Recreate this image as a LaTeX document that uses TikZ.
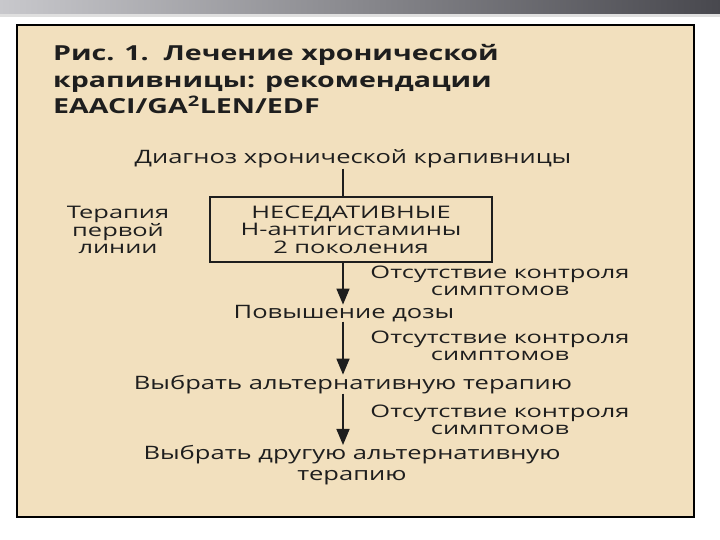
\documentclass[tikz,border=0pt]{standalone}
\usepackage{fontspec}
\setmainfont{Open Sans}[FakeStretch=1.38]
\newfontfamily\widefont{Open Sans}[FakeStretch=1.47]
\usetikzlibrary{arrows.meta}
\definecolor{paper}{RGB}{242,224,190}
\definecolor{ink}{RGB}{30,30,30}
\definecolor{barL}{RGB}{200,200,204}
\definecolor{barR}{RGB}{72,72,78}
\begin{document}
\begin{tikzpicture}[x=1pt,y=1pt]
			\tikzstyle{txt}=[inner sep=0pt,text=ink,font=\fontsize{18.5}{18.5}\selectfont]
			\tikzstyle{ttl}=[inner sep=0pt,anchor=base west,text=ink,font=\bfseries\fontsize{20.7}{21}\selectfont]
			\tikzstyle{side}=[txt,align=center,font=\widefont\fontsize{17.3}{17.5}\selectfont]
			\tikzstyle{flow}=[-{Triangle[length=16pt,width=13pt]},line width=1.6pt,draw=ink]
			\useasboundingbox (0,0) rectangle (720,-540);
			\fill[white] (0,0) rectangle (720,-540);
			\shade[left color=barL,right color=barR] (0,0) rectangle (720,-14);
			\fill[gray!25] (0,-14) rectangle (720,-17);
			\draw[line width=2.5pt,fill=paper] (17,-25) rectangle (694,-517);
			\coordinate (axis) at (343,0);
			\begin{scope}
			\node[ttl] (t1) at (53,-61)  {Рис. 1.\ \ Лечение хронической};
			\node[ttl] (t2) at (53,-88)  {крапивницы: рекомендации};
			\node[ttl] (t3) at (53,-114) {EAACI/GA\textsuperscript{2}LEN/EDF};
			\node[txt,anchor=base] (diag) at (353,-164) {Диагноз хронической крапивницы};
			\node[side,draw=ink,line width=1.3pt,minimum width=282pt,minimum height=65pt] (nsa) at (351,-229.5) {НЕСЕДАТИВНЫЕ\\Н-антигистамины\\2 поколения};
			\node[side] (first) at (118,-230) {Терапия\\первой\\линии};
			\node[side] (nc1) at (500,-281) {Отсутствие контроля\\симптомов};
			\node[txt,anchor=base] (dose) at (344,-318) {Повышение дозы};
			\node[side] (nc2) at (500,-346) {Отсутствие контроля\\симптомов};
			\node[txt,anchor=base] (alt) at (353,-389) {Выбрать альтернативную терапию};
			\node[side] (nc3) at (500,-420) {Отсутствие контроля\\симптомов};
			\node[txt,align=center,font=\fontsize{18.5}{21}\selectfont] (other) at (352,-465) {Выбрать другую альтернативную\\терапию};
			\end{scope}
			
			\draw[line width=1.6pt,ink] (diag.south -| axis) -- (nsa.north -| axis);
			\draw[flow] (nsa.south -| axis) -- (dose.north -| axis);
			\draw[flow] (dose.south -| axis) -- (alt.north -| axis);
			\draw[flow] (alt.south -| axis) -- (other.north -| axis);
		\end{tikzpicture}
\end{document}
